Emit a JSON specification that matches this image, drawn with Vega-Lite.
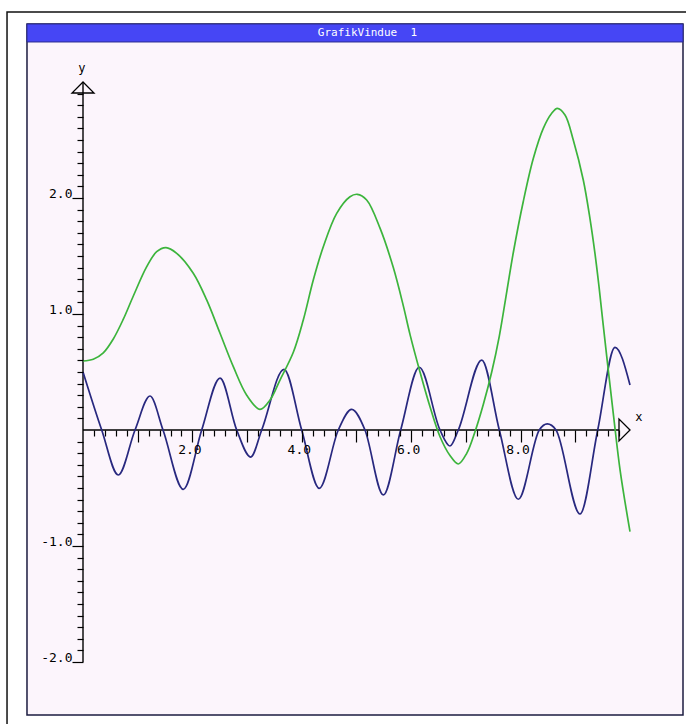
{
  "$schema": "https://vega.github.io/schema/vega-lite/v6.json",
  "width": 686,
  "height": 724,
  "autosize": "none",
  "padding": 0,
  "background": "white",
  "config": {"view": {"stroke": null}},
  "datasets": {
    "frame": [
      {"part": "outer", "x": -1.389, "x2": 11.4, "y": 3.603, "y2": -2.8},
      {"part": "window", "x": -1.024, "x2": 10.969, "y": 3.5, "y2": -2.457},
      {"part": "titlebar", "x": -1.024, "x2": 10.969, "y": 3.5, "y2": 3.345}
    ],
    "caption": [
      {"label": "GrafikVindue\u00a0 1", "x": 5.2, "y": 3.422}
    ],
    "axislines": [
      {"x": 0, "x2": 9.8, "y": 0, "y2": 0},
      {"x": 0, "x2": 0, "y": -2, "y2": 3}
    ],
    "arrows": [
      {"dir": "right", "x": 10, "y": 0},
      {"dir": "up", "x": 0, "y": 3}
    ],
    "axisnames": [
      {"label": "x", "x": 10.16, "y": 0.11},
      {"label": "y", "x": -0.02, "y": 3.12}
    ],
    "curves": [
      {"series": "f", "x": 0, "y": 0.5},
      {"series": "f", "x": 0.342, "y": 0},
      {"series": "f", "x": 0.645, "y": -0.388},
      {"series": "f", "x": 0.951, "y": 0},
      {"series": "f", "x": 1.225, "y": 0.293},
      {"series": "f", "x": 1.463, "y": 0},
      {"series": "f", "x": 1.834, "y": -0.511},
      {"series": "f", "x": 2.17, "y": 0},
      {"series": "f", "x": 2.505, "y": 0.448},
      {"series": "f", "x": 2.81, "y": 0},
      {"series": "f", "x": 3.066, "y": -0.233},
      {"series": "f", "x": 3.267, "y": 0},
      {"series": "f", "x": 3.675, "y": 0.523},
      {"series": "f", "x": 3.998, "y": 0},
      {"series": "f", "x": 4.32, "y": -0.503},
      {"series": "f", "x": 4.667, "y": 0},
      {"series": "f", "x": 4.912, "y": 0.178},
      {"series": "f", "x": 5.155, "y": 0},
      {"series": "f", "x": 5.49, "y": -0.56},
      {"series": "f", "x": 5.808, "y": 0},
      {"series": "f", "x": 6.148, "y": 0.541},
      {"series": "f", "x": 6.527, "y": 0},
      {"series": "f", "x": 6.709, "y": -0.138},
      {"series": "f", "x": 6.861, "y": 0},
      {"series": "f", "x": 7.289, "y": 0.603},
      {"series": "f", "x": 7.611, "y": 0},
      {"series": "f", "x": 7.958, "y": -0.597},
      {"series": "f", "x": 8.342, "y": 0},
      {"series": "f", "x": 8.488, "y": 0.052},
      {"series": "f", "x": 8.647, "y": 0},
      {"series": "f", "x": 9.086, "y": -0.724},
      {"series": "f", "x": 9.41, "y": 0},
      {"series": "f", "x": 9.726, "y": 0.713},
      {"series": "f", "x": 10.0, "y": 0.388},
      {"series": "g", "x": 0, "y": 0.595},
      {"series": "g", "x": 0.188, "y": 0.61},
      {"series": "g", "x": 0.371, "y": 0.665},
      {"series": "g", "x": 0.554, "y": 0.785},
      {"series": "g", "x": 0.737, "y": 0.955},
      {"series": "g", "x": 0.92, "y": 1.155},
      {"series": "g", "x": 1.165, "y": 1.408},
      {"series": "g", "x": 1.347, "y": 1.537},
      {"series": "g", "x": 1.517, "y": 1.572},
      {"series": "g", "x": 1.713, "y": 1.523},
      {"series": "g", "x": 2.016, "y": 1.351},
      {"series": "g", "x": 2.261, "y": 1.121},
      {"series": "g", "x": 2.505, "y": 0.834},
      {"series": "g", "x": 2.748, "y": 0.546},
      {"series": "g", "x": 2.993, "y": 0.3},
      {"series": "g", "x": 3.236, "y": 0.178},
      {"series": "g", "x": 3.419, "y": 0.259},
      {"series": "g", "x": 3.601, "y": 0.431},
      {"series": "g", "x": 3.845, "y": 0.67},
      {"series": "g", "x": 4.027, "y": 0.948},
      {"series": "g", "x": 4.21, "y": 1.293},
      {"series": "g", "x": 4.393, "y": 1.58},
      {"series": "g", "x": 4.638, "y": 1.868},
      {"series": "g", "x": 4.881, "y": 2.011},
      {"series": "g", "x": 5.015, "y": 2.032},
      {"series": "g", "x": 5.186, "y": 1.983},
      {"series": "g", "x": 5.43, "y": 1.74},
      {"series": "g", "x": 5.673, "y": 1.4},
      {"series": "g", "x": 5.856, "y": 1.07},
      {"series": "g", "x": 5.98, "y": 0.82},
      {"series": "g", "x": 6.161, "y": 0.5},
      {"series": "g", "x": 6.344, "y": 0.2},
      {"series": "g", "x": 6.527, "y": -0.058},
      {"series": "g", "x": 6.709, "y": -0.22},
      {"series": "g", "x": 6.861, "y": -0.293},
      {"series": "g", "x": 7.015, "y": -0.201},
      {"series": "g", "x": 7.166, "y": -0.015},
      {"series": "g", "x": 7.318, "y": 0.22},
      {"series": "g", "x": 7.472, "y": 0.5},
      {"series": "g", "x": 7.611, "y": 0.81},
      {"series": "g", "x": 7.75, "y": 1.2},
      {"series": "g", "x": 7.867, "y": 1.53},
      {"series": "g", "x": 8.049, "y": 1.97},
      {"series": "g", "x": 8.232, "y": 2.34},
      {"series": "g", "x": 8.415, "y": 2.6},
      {"series": "g", "x": 8.569, "y": 2.73},
      {"series": "g", "x": 8.671, "y": 2.773},
      {"series": "g", "x": 8.812, "y": 2.716},
      {"series": "g", "x": 8.963, "y": 2.5},
      {"series": "g", "x": 9.146, "y": 2.155},
      {"series": "g", "x": 9.269, "y": 1.82},
      {"series": "g", "x": 9.36, "y": 1.52},
      {"series": "g", "x": 9.43, "y": 1.25},
      {"series": "g", "x": 9.5, "y": 0.95},
      {"series": "g", "x": 9.59, "y": 0.57},
      {"series": "g", "x": 9.7, "y": 0.12},
      {"series": "g", "x": 9.82, "y": -0.35},
      {"series": "g", "x": 10.0, "y": -0.877}
    ]
  },
  "encoding": {
    "x": {
      "field": "x",
      "type": "quantitative",
      "scale": {"domain": [-1.5174, 11.0238], "nice": false, "zero": false},
      "axis": {
        "orient": "bottom",
        "offset": -294,
        "zindex": 1,
        "domain": false,
        "grid": false,
        "title": null,
        "values": [0.2,0.4,0.6,0.8,1,1.2,1.4,1.6,1.8,2,2.2,2.4,2.6,2.8,3,3.2,3.4,3.6,3.8,4,4.2,4.4,4.6,4.8,5,5.2,5.4,5.6,5.8,6,6.2,6.4,6.6,6.8,7,7.2,7.4,7.6,7.8,8,8.2,8.4,8.6,8.8,9,9.2,9.4,9.6,9.8],
        "tickSize": {"condition": {"test": "abs(datum.value - round(datum.value)) < 0.001", "value": 12}, "value": 6},
        "tickColor": "black",
        "tickWidth": 1.2,
        "labelExpr": "abs(datum.value / 2 - round(datum.value / 2)) < 0.001 ? format(datum.value, '.1f') : ''",
        "labelFont": "DejaVu Sans Mono",
        "labelFontSize": 13,
        "labelColor": "black",
        "labelPadding": 1,
        "labelBaseline": "top",
        "labelAlign": "center",
        "labelOffset": -3,
        "labelFlush": false,
        "labelOverlap": false
      }
    },
    "y": {
      "field": "y",
      "type": "quantitative",
      "scale": {"domain": [-2.5345, 3.7069], "nice": false, "zero": false},
      "axis": {
        "orient": "left",
        "offset": -83,
        "zindex": 1,
        "domain": false,
        "grid": false,
        "title": null,
        "values": [-2,-1.9,-1.8,-1.7,-1.6,-1.5,-1.4,-1.3,-1.2,-1.1,-1,-0.9,-0.8,-0.7,-0.6,-0.5,-0.4,-0.3,-0.2,-0.1,0.1,0.2,0.3,0.4,0.5,0.6,0.7,0.8,0.9,1,1.1,1.2,1.3,1.4,1.5,1.6,1.7,1.8,1.9,2,2.1,2.2,2.3,2.4,2.5,2.6,2.7,2.8,2.9],
        "tickSize": {"condition": {"test": "abs(datum.value - round(datum.value)) < 0.001", "value": 11}, "value": 6},
        "tickColor": "black",
        "tickWidth": 1.2,
        "labelExpr": "abs(datum.value - round(datum.value)) < 0.001 ? (datum.value < 0 ? '-' + format(abs(datum.value), '.1f') : format(datum.value, '.1f')) : ''",
        "labelFont": "DejaVu Sans Mono",
        "labelFontSize": 13,
        "labelColor": "black",
        "labelPadding": 0,
        "labelBaseline": "alphabetic",
        "labelAlign": "right",
        "labelFlush": false,
        "labelOverlap": false
      }
    }
  },
  "layer": [
    {
      "data": {"name": "frame"},
      "transform": [{"filter": "datum.part == 'outer'"}],
      "mark": {"type": "rect", "fill": "white", "stroke": "#111111", "strokeWidth": 1.5},
      "encoding": {"x2": {"field": "x2"}, "y2": {"field": "y2"}}
    },
    {
      "data": {"name": "frame"},
      "transform": [{"filter": "datum.part == 'window'"}],
      "mark": {"type": "rect", "fill": "#fcf5fc", "stroke": "#1c1c40", "strokeWidth": 1.5},
      "encoding": {"x2": {"field": "x2"}, "y2": {"field": "y2"}}
    },
    {
      "data": {"name": "frame"},
      "transform": [{"filter": "datum.part == 'titlebar'"}],
      "mark": {"type": "rect", "fill": "#4646f5", "stroke": "#2a2a90", "strokeWidth": 1},
      "encoding": {"x2": {"field": "x2"}, "y2": {"field": "y2"}}
    },
    {
      "data": {"name": "caption"},
      "mark": {"type": "text", "font": "DejaVu Sans Mono", "fontSize": 11, "color": "white", "baseline": "middle", "align": "center"},
      "encoding": {"text": {"field": "label"}}
    },
    {
      "data": {"name": "axislines"},
      "mark": {"type": "rule", "color": "black", "strokeWidth": 1.4},
      "encoding": {"x2": {"field": "x2"}, "y2": {"field": "y2"}}
    },
    {
      "data": {"name": "curves"},
      "transform": [{"filter": "datum.series == 'f'"}],
      "mark": {"type": "line", "interpolate": "monotone", "strokeWidth": 1.7, "color": "#28287f"}
    },
    {
      "data": {"name": "curves"},
      "transform": [{"filter": "datum.series == 'g'"}],
      "mark": {"type": "line", "interpolate": "catmull-rom", "strokeWidth": 1.7, "color": "#3cb43c"}
    },
    {
      "data": {"name": "arrows"},
      "mark": {"type": "point", "filled": false, "stroke": "black", "strokeWidth": 1.3, "size": 484, "opacity": 1},
      "encoding": {
        "shape": {"field": "dir", "type": "nominal", "scale": {"domain": ["right", "up"], "range": ["M0,0L-1,-1L-1,1Z", "M0,0L-1,1L1,1Z"]}, "legend": null}
      }
    },
    {
      "data": {"name": "axisnames"},
      "mark": {"type": "text", "font": "DejaVu Sans Mono", "fontSize": 12, "color": "black", "baseline": "middle", "align": "center"},
      "encoding": {"text": {"field": "label"}}
    }
  ]
}
